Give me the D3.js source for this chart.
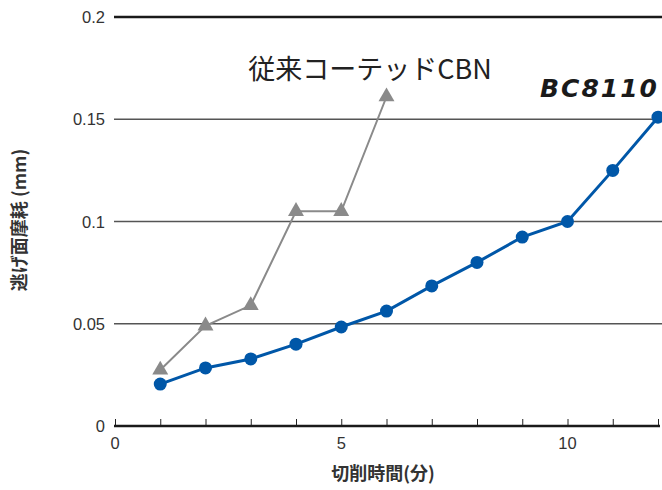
<!DOCTYPE html>
<html>
<head>
<meta charset="utf-8">
<script src="https://cdn.jsdelivr.net/npm/d3@7"></script>
<style>
  body { margin: 0; background: #fff; }
  svg { font-family: "Noto Sans CJK JP", "Liberation Sans", sans-serif; }
</style>
</head>
<body>
<div id="chart"></div>
<script>
// cutting time (min)
let bcTime = [1, 2, 3, 4, 5, 6, 7, 8, 9, 10, 11, 12];
let bcWear = [0.0205, 0.0284, 0.0328, 0.040, 0.0484, 0.0562, 0.0685, 0.080, 0.0924, 0.100, 0.125, 0.151];
let cbnTime = [1, 2, 3, 4, 5, 6];
let cbnWear = [0.0274, 0.049, 0.059, 0.105, 0.105, 0.161];
let yTickValues = [0, 0.05, 0.1, 0.15, 0.2];
let yTickLabels = ["0", "0.05", "0.1", "0.15", "0.2"];
let xTickLabels = [0, 5, 10];

let width = 662, height = 490;
let margin = { top: 17, right: 4, bottom: 64, left: 115 };

let svg = d3.select("#chart").append("svg")
    .attr("width", width)
    .attr("height", height);

let x = d3.scaleLinear().domain([0, 12]).range([margin.left, width - margin.right]);
let y = d3.scaleLinear().domain([0, 0.2]).range([height - margin.bottom, margin.top]);

// horizontal grid lines
svg.selectAll(".grid")
    .data(yTickValues.slice(1))
    .enter().append("line")
    .attr("class", "grid")
    .attr("x1", x(0) - 1)
    .attr("x2", width)
    .attr("y1", function(d) { return y(d); })
    .attr("y2", function(d) { return y(d); })
    .attr("stroke", function(d) { return d === 0.2 ? "#1a1a1a" : "#555"; })
    .attr("stroke-width", function(d) { return d === 0.2 ? 2.6 : 1.4; });

// x axis with small upward ticks
let xAxis = svg.append("g")
    .attr("transform", "translate(0," + y(0) + ")")
    .call(d3.axisTop(x).ticks(12).tickSize(7).tickFormat(""));
xAxis.select(".domain").remove();
xAxis.selectAll("line").attr("stroke", "#222").attr("stroke-width", 1);
svg.append("line")
    .attr("x1", x(0) - 1).attr("x2", x(12) + 2)
    .attr("y1", y(0)).attr("y2", y(0))
    .attr("stroke", "#1a1a1a").attr("stroke-width", 2.6);

svg.selectAll(".xlabel")
    .data(xTickLabels)
    .enter().append("text")
    .attr("x", function(d) { return x(d); })
    .attr("y", y(0) + 23)
    .attr("text-anchor", "middle")
    .attr("font-family", "Liberation Sans, Arial, sans-serif")
    .attr("font-size", 16.5)
    .attr("fill", "#333")
    .text(function(d) { return d; });

svg.selectAll(".ylabel")
    .data(yTickValues)
    .enter().append("text")
    .attr("x", x(0) - 10)
    .attr("y", function(d) { return y(d) + 6; })
    .attr("text-anchor", "end")
    .attr("font-family", "Liberation Sans, Arial, sans-serif")
    .attr("font-size", 16.5)
    .attr("fill", "#333")
    .text(function(d, i) { return yTickLabels[i]; });

// axis titles
svg.append("text")
    .attr("x", 383)
    .attr("y", 480)
    .attr("text-anchor", "middle")
    .attr("font-size", 18)
    .attr("font-weight", "bold")
    .attr("fill", "#333")
    .text("切削時間(分)");

svg.append("text")
    .attr("transform", "translate(26,220) rotate(-90)")
    .attr("text-anchor", "middle")
    .attr("font-size", 18)
    .attr("font-weight", "bold")
    .attr("fill", "#333")
    .text("逃げ面摩耗 (mm)");

// conventional coated CBN
let cbn = cbnTime.map(function(t, i) { return { t: t, w: cbnWear[i] }; });
let line = d3.line()
    .x(function(d) { return x(d.t); })
    .y(function(d) { return y(d.w); });

svg.append("path")
    .datum(cbn)
    .attr("d", line)
    .attr("fill", "none")
    .attr("stroke", "#8a8a8a")
    .attr("stroke-width", 2);

svg.selectAll(".tri")
    .data(cbn)
    .enter().append("path")
    .attr("class", "tri")
    .attr("transform", function(d) { return "translate(" + x(d.t) + "," + y(d.w) + ")"; })
    .attr("d", d3.symbol().type(d3.symbolTriangle).size(110))
    .attr("fill", "#8a8a8a");

// BC8110
let bc = bcTime.map(function(t, i) { return { t: t, w: bcWear[i] }; });
svg.append("path")
    .datum(bc)
    .attr("d", line)
    .attr("fill", "none")
    .attr("stroke", "#0057a8")
    .attr("stroke-width", 3);

svg.selectAll(".dot")
    .data(bc)
    .enter().append("circle")
    .attr("cx", function(d) { return x(d.t); })
    .attr("cy", function(d) { return y(d.w); })
    .attr("r", 6.5)
    .attr("fill", "#0057a8");

// series labels
svg.append("text")
    .attr("x", 370)
    .attr("y", 79)
    .attr("text-anchor", "middle")
    .attr("font-size", 27)
    .attr("fill", "#222")
    .text("従来コーテッドCBN");

svg.append("text")
    .attr("x", 659)
    .attr("y", 97)
    .attr("text-anchor", "end")
    .attr("font-family", "DejaVu Sans, sans-serif")
    .attr("font-size", 25)
    .attr("font-weight", "bold")
    .attr("font-style", "italic")
    .attr("letter-spacing", 2)
    .attr("fill", "#1a1a1a")
    .text("BC8110");
</script>
</body>
</html>
